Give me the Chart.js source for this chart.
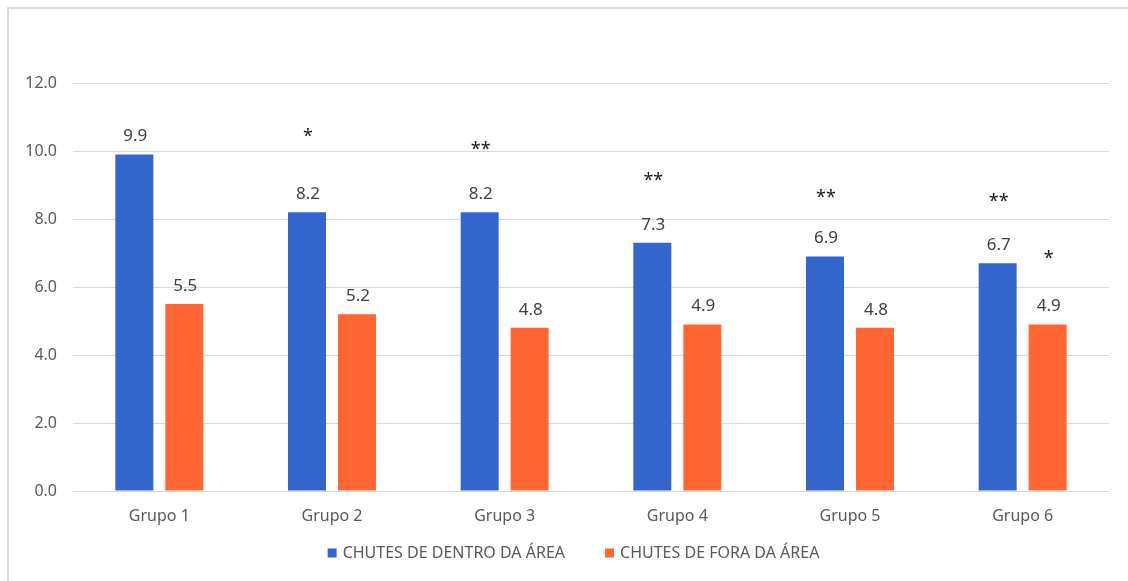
<!DOCTYPE html>
<html>
<head>
<meta charset="utf-8">
<script src="https://cdn.jsdelivr.net/npm/chart.js@4.4.1/dist/chart.umd.min.js"></script>
<style>
  html, body { margin: 0; padding: 0; background: #ffffff; }
  #wrap { position: absolute; left: 0; top: 0; width: 1128px; height: 581px; }
</style>
</head>
<body>
<div id="wrap"><canvas id="c" width="1128" height="581"></canvas></div>
<script>
const categories = ['Grupo 1', 'Grupo 2', 'Grupo 3', 'Grupo 4', 'Grupo 5', 'Grupo 6'];
const seriesNames = ['CHUTES DE DENTRO DA ÁREA', 'CHUTES DE FORA DA ÁREA'];
const dentro = [9.9, 8.2, 8.2, 7.3, 6.9, 6.7];
const fora = [5.5, 5.2, 4.8, 4.9, 4.8, 4.9];
const sigDentro = ['', '*', '**', '**', '**', '**'];
const sigDentroAt = [null, 10.53, 10.15, 9.26, 8.76, 8.64];
const sigFora = ['', '', '', '', '', '*'];
const sigForaAt = [null, null, null, null, null, 6.96];
const yTicks = [0, 2, 4, 6, 8, 10, 12];
const colors = ['#3366cc', '#ff6633'];

const FONT = '"Noto Sans", "Open Sans", sans-serif';

const framePlugin = {
  id: 'frame',
  beforeDraw(chart) {
    const ctx = chart.ctx;
    ctx.save();
    ctx.fillStyle = '#d9d9d9';
    ctx.fillRect(7, 7, chart.width - 7, 2);
    ctx.fillRect(7, 7, 2, chart.height - 7);
    ctx.restore();
  }
};

const legendPlugin = {
  id: 'customLegend',
  afterDraw(chart) {
    const ctx = chart.ctx;
    ctx.save();
    ctx.font = '16px ' + FONT;
    const items = chart.data.datasets.map((ds, i) => ({
      text: ds.label, color: ds.backgroundColor, w: ctx.measureText(ds.label).width
    }));
    const box = 9, gapBT = 6, gapItems = 40;
    let total = 0;
    items.forEach((it, i) => { total += box + gapBT + it.w + (i < items.length - 1 ? gapItems : 0); });
    let x = 573.5 - total / 2;
    const yc = 553;
    ctx.textAlign = 'left';
    ctx.textBaseline = 'middle';
    items.forEach(it => {
      ctx.fillStyle = it.color;
      ctx.fillRect(x, yc - box / 2, box, box);
      x += box + gapBT;
      ctx.fillStyle = '#595959';
      ctx.fillText(it.text, x, yc);
      x += it.w + gapItems;
    });
    ctx.restore();
  }
};

const labelPlugin = {
  id: 'labels',
  afterDatasetsDraw(chart) {
    const ctx = chart.ctx;
    const y = chart.scales.y;
    const sigs = [[sigDentro, sigDentroAt], [sigFora, sigForaAt]];
    ctx.save();
    chart.data.datasets.forEach((ds, di) => {
      const meta = chart.getDatasetMeta(di);
      meta.data.forEach((bar, i) => {
        ctx.font = '17px ' + FONT;
        ctx.fillStyle = '#404040';
        ctx.textAlign = 'center';
        ctx.textBaseline = 'middle';
        ctx.fillText(ds.data[i].toFixed(1), bar.x + 1, bar.y - 18);
        const s = sigs[di][0][i];
        const at = sigs[di][1][i];
        if (s && at != null) {
          ctx.font = '18px ' + FONT;
          ctx.fillStyle = '#1a1a1a';
          ctx.textBaseline = 'alphabetic';
          const m = ctx.measureText(s);
          const yc = y.getPixelForValue(at);
          ctx.fillText(s, bar.x + 1, yc + (m.actualBoundingBoxAscent - m.actualBoundingBoxDescent) / 2);
        }
      });
    });
    ctx.restore();
  }
};

new Chart(document.getElementById('c'), {
  type: 'bar',
  data: {
    labels: categories,
    datasets: [
      { label: seriesNames[0], data: dentro, backgroundColor: colors[0], borderWidth: 0 },
      { label: seriesNames[1], data: fora, backgroundColor: colors[1], borderWidth: 0 }
    ]
  },
  options: {
    responsive: false,
    animation: false,
    events: [],
    devicePixelRatio: 1,
    categoryPercentage: 0.579,
    barPercentage: 0.76,
    layout: { padding: { top: 83, right: 19, left: 1, bottom: 38.8 } },
    plugins: {
      tooltip: { enabled: false },
      legend: { display: false }
    },
    scales: {
      x: {
        grid: { display: false, drawTicks: false },
        border: { display: false },
        ticks: { color: '#595959', font: { family: FONT, size: 16 }, padding: 16 }
      },
      y: {
        min: 0, max: 12,
        afterFit(s) { s.width = 72; },
        afterBuildTicks(s) { s.ticks = yTicks.map(v => ({ value: v })); },
        grid: { color: '#d9d9d9', lineWidth: 1, drawTicks: false },
        border: { display: false },
        ticks: { color: '#595959', font: { family: FONT, size: 16 }, padding: 16,
                 callback: v => Number(v).toFixed(1) }
      }
    }
  },
  plugins: [framePlugin, labelPlugin, legendPlugin]
});
</script>
</body>
</html>
